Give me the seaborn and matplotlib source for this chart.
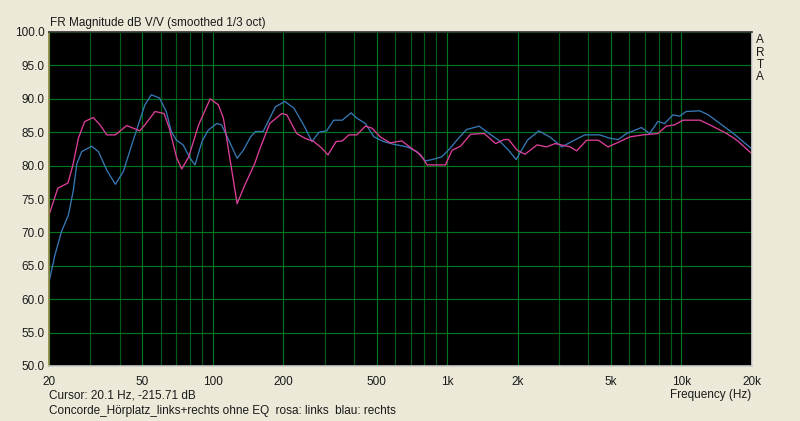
import numpy as np
import pandas as pd
import matplotlib
matplotlib.use("Agg")
import matplotlib.pyplot as plt
from matplotlib.ticker import FixedLocator, FixedFormatter, NullFormatter
import seaborn as sns

# ---- data ----
links_freq = [20, 21.8, 24.1, 25.3, 26.7, 28.4, 30.9, 33.0, 35.3, 38.4, 42.9, 48.8, 51.3, 56.7,
              61.9, 65.2, 70.2, 73.7, 78.9, 87.0, 97.5, 105.6, 111, 117, 127, 137, 151, 158,
              175, 197, 207, 228, 247, 270, 292, 310, 336, 357, 381, 412, 448, 478, 518, 572,
              640, 698, 771, 822, 905, 983, 1050, 1140, 1260, 1440, 1610, 1750, 1830, 1990,
              2150, 2420, 2660, 2890, 3350, 3570, 3940, 4420, 4860, 5460, 6020, 6860, 7930,
              8610, 9350, 10150, 11990, 13220, 15600, 17240, 19800]
links_db = [72.6, 76.6, 77.4, 80.1, 84.1, 86.6, 87.2, 86.1, 84.6, 84.6, 86.0, 85.2, 86.1, 88.1,
            87.8, 85.6, 81.1, 79.5, 81.3, 86.1, 90.0, 89.1, 87.1, 82.1, 74.3, 77.1, 80.3, 82.3,
            86.3, 87.8, 87.6, 84.8, 84.1, 83.6, 82.6, 81.6, 83.6, 83.7, 84.6, 84.6, 85.9, 85.6,
            84.3, 83.4, 83.7, 82.7, 81.6, 80.1, 80.1, 80.1, 82.3, 82.9, 84.7, 84.8, 83.3, 83.9,
            83.9, 82.3, 81.7, 83.1, 82.8, 83.3, 82.8, 82.2, 83.8, 83.8, 82.8, 83.6, 84.3, 84.6,
            84.8, 85.9, 86.1, 86.8, 86.8, 86.1, 84.8, 83.8, 81.9]

rechts_freq = [20, 21.2, 22.6, 24.2, 25.4, 26.3, 27.6, 30.4, 32.5, 35.3, 38.4, 41.5, 45.1, 48.1,
               51.3, 54.7, 59.3, 63.3, 66.5, 70, 74.7, 80, 84, 89.9, 95.6, 103.9, 109, 117, 127,
               135, 145, 152, 164, 185, 203, 222, 244, 265, 284, 306, 328, 357, 389, 412, 448,
               487, 536, 590, 675, 743, 808, 862, 948, 1030, 1100, 1210, 1370, 1510, 1660, 1830,
               1970, 2200, 2460, 2740, 3090, 3400, 3870, 4480, 4940, 5370, 5830, 6750, 7320,
               7930, 8470, 9200, 9820, 10480, 11990, 13010, 14610, 16680, 19800]
rechts_db = [62.6, 66.6, 70.1, 72.6, 76.3, 80.3, 82.1, 82.9, 82.1, 79.3, 77.2, 79.1, 83.1, 86.1,
             89.1, 90.6, 90.1, 88.1, 85.1, 83.8, 83.1, 81.1, 80.1, 83.6, 85.3, 86.3, 86.1, 83.8,
             81.1, 82.3, 84.3, 85.1, 85.1, 88.8, 89.6, 88.6, 86.1, 83.6, 85.0, 85.2, 86.8, 86.8,
             87.9, 87.1, 86.3, 84.3, 83.6, 83.2, 82.8, 82.1, 80.7, 80.9, 81.3, 82.6, 83.8, 85.4,
             85.9, 84.8, 83.8, 82.3, 80.9, 83.8, 85.2, 84.3, 82.8, 83.6, 84.6, 84.6, 84.1, 83.9,
             84.8, 85.7, 84.8, 86.6, 86.3, 87.6, 87.4, 88.1, 88.2, 87.6, 86.3, 84.8, 82.6]

x_ticks = [20, 50, 100, 200, 500, 1000, 2000, 5000, 10000, 20000]
x_labels = ["20", "50", "100", "200", "500", "1k", "2k", "5k", "10k", "20k"]
y_ticks = [50, 55, 60, 65, 70, 75, 80, 85, 90, 95, 100]
y_labels = ["%.1f" % v for v in y_ticks]

title_text = "FR Magnitude dB V/V (smoothed 1/3 oct)"
cursor_text = "Cursor: 20.1 Hz, -215.71 dB"
caption_text = "Concorde_Hörplatz_links+rechts ohne EQ  rosa: links  blau: rechts"
xlabel_text = "Frequency (Hz)"

# ---- style ----
sns.set_theme(style="dark")
plt.rcParams["font.family"] = ["Liberation Sans", "DejaVu Sans"]

BG = "#ece9d8"
PINK = "#dc3f9a"
BLUE = "#3678b4"
GRID_MAJ = "#00761c"
GRID_MIN = "#005c16"
TXT = "#1a1a1a"

fig = plt.figure(figsize=(8.0, 4.21), dpi=100, facecolor=BG)
ax = fig.add_axes([49 / 800, 1 - 366 / 421, 703 / 800, 334 / 421])
ax.set_facecolor("black")

df_l = pd.DataFrame({"f": links_freq, "db": links_db})
df_r = pd.DataFrame({"f": rechts_freq, "db": rechts_db})

ax.set_xscale("log")
ax.set_xlim(20, 20000)
ax.set_ylim(50, 100)

# grid
minor_pos = []
for dec in [10, 100, 1000, 10000]:
    for m in range(1, 10):
        v = dec * m
        if 20 < v < 20000 and v not in x_ticks:
            minor_pos.append(v)
ax.xaxis.set_major_locator(FixedLocator(x_ticks))
ax.xaxis.set_major_formatter(FixedFormatter(x_labels))
ax.xaxis.set_minor_locator(FixedLocator(minor_pos))
ax.xaxis.set_minor_formatter(NullFormatter())
ax.yaxis.set_major_locator(FixedLocator(y_ticks))
ax.yaxis.set_major_formatter(FixedFormatter(y_labels))

ax.grid(True, which="major", axis="both", color=GRID_MAJ, linewidth=0.85)
ax.grid(True, which="minor", axis="x", color=GRID_MIN, linewidth=0.85)
ax.set_axisbelow(True)

sns.lineplot(data=df_r, x="f", y="db", ax=ax, color=BLUE, linewidth=0.95, estimator=None, sort=False)
sns.lineplot(data=df_l, x="f", y="db", ax=ax, color=PINK, linewidth=0.95, estimator=None, sort=False)

ax.set_xlabel("")
ax.set_ylabel("")
ax.tick_params(axis="both", which="both", length=0, labelsize=8.5, colors=TXT)
ax.tick_params(axis="x", pad=7)
ax.tick_params(axis="y", pad=3)

ax.spines["top"].set_color("#303030")
ax.spines["left"].set_color("#8a8440")
ax.spines["bottom"].set_color("#c8c8c8")
ax.spines["right"].set_color("#d8d8d8")
for s in ax.spines.values():
    s.set_linewidth(1.2)
    s.set_visible(True)

fig.text(50 / 800, 1 - 23 / 421, title_text, fontsize=8.5, ha="left", va="center", color=TXT)
fig.text(49 / 800, 1 - 395 / 421, cursor_text, fontsize=8.5, ha="left", va="center", color=TXT)
fig.text(49 / 800, 1 - 411 / 421, caption_text, fontsize=8.5, ha="left", va="center", color=TXT)
fig.text(751 / 800, 1 - 395 / 421, xlabel_text, fontsize=8.5, ha="right", va="center", color=TXT)
for i, ch in enumerate("ARTA"):
    fig.text(760 / 800, 1 - (40 + i * 12.5) / 421, ch, fontsize=8.5, ha="center", va="center",
             color=TXT)

fig.savefig("out.png", dpi=100, facecolor=BG)
